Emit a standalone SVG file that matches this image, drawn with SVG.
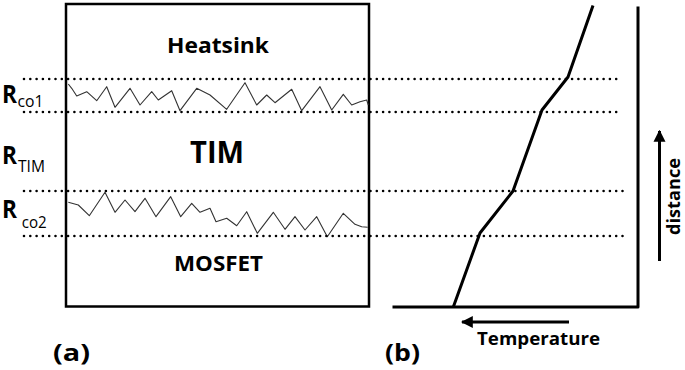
<svg xmlns="http://www.w3.org/2000/svg" width="685" height="370" viewBox="0 0 685 370">
<style>
.dot{stroke:#000;stroke-width:2.6;stroke-linecap:round;stroke-dasharray:0 6.3;fill:none}
.thick{stroke:#000;stroke-width:3;fill:none;stroke-linecap:square;stroke-linejoin:round}
.rough{stroke:#333;stroke-width:1.1;fill:none;stroke-linejoin:round}
text{font-family:"Open Sans","DejaVu Sans",sans-serif;fill:#000}
.b{font-weight:bold}
.sub{font-weight:normal;font-size:15.5px}
</style>
<defs>
<marker id="ah" viewBox="0 0 10 10" refX="9" refY="5" markerWidth="4" markerHeight="4.3" orient="auto" markerUnits="strokeWidth">
<path d="M0,0 L10,5 L0,10 Z" fill="#000"/>
</marker>
</defs>
<rect width="685" height="370" fill="#fff"/>
<g id="panel-a">
<rect x="66" y="4" width="303" height="302.5" fill="none" stroke="#000" stroke-width="2.5"/>
<text class="b" x="167" y="53.3" font-size="21" textLength="102" lengthAdjust="spacingAndGlyphs">Heatsink</text>
<text class="b" x="190" y="163.3" font-size="30" textLength="54" lengthAdjust="spacingAndGlyphs">TIM</text>
<text class="b" x="174" y="270.7" font-size="22" textLength="89" lengthAdjust="spacingAndGlyphs">MOSFET</text>
<text class="b" x="53" y="361" font-size="23" textLength="37" lengthAdjust="spacingAndGlyphs">(a)</text>
<text class="b" x="2" y="103.3" font-size="25" textLength="15" lengthAdjust="spacingAndGlyphs">R</text>
<text class="sub" x="17.5" y="106.7" textLength="26" lengthAdjust="spacingAndGlyphs">co1</text>
<text class="b" x="2" y="164" font-size="25" textLength="15" lengthAdjust="spacingAndGlyphs">R</text>
<text class="sub" x="18" y="171.7" textLength="27" lengthAdjust="spacingAndGlyphs">TIM</text>
<text class="b" x="2" y="218.3" font-size="25" textLength="15" lengthAdjust="spacingAndGlyphs">R</text>
<text class="sub" x="21.7" y="228.3" textLength="25" lengthAdjust="spacingAndGlyphs">co2</text>
<polyline class="rough" points="68.3,84 71.7,88.3 76.7,96 86.7,91.7 96.7,100.7 106.7,86.7 115,107.3 130,88.3 140,105 151.7,91.7 158.3,100 171.7,90.7 180,110.7 196.7,88.3 210,95 226.7,109.3 245,82.7 256.7,105 266.7,95 275,102.7 291.7,89.3 301.7,110.7 320,86.7 331.7,110 343.3,94.3 351.7,105 360,101.7 366.7,100 368.3,105"/>
<polyline class="rough" points="68.3,202.3 78.3,205 89.3,215.7 105,192.3 115,212.3 125,200 135,211.7 145,198.3 156,216.7 170.7,196.7 180.7,216.7 191.7,203.3 200,212.3 210,208.3 216,221.7 226.7,218.3 236.7,225.7 246.7,211.7 257.3,233.3 273.3,212.3 285,229.3 295,216.7 305,230 316.7,216.7 327.3,236.7 343.3,213.3 355,224.3 361.7,226.7 367.7,227.3"/>
</g>
<g id="connectors">
<line class="dot" x1="24" y1="79" x2="621" y2="79"/>
<line class="dot" x1="24" y1="112" x2="621" y2="112"/>
<line class="dot" x1="24" y1="191" x2="628" y2="191"/>
<line class="dot" x1="24" y1="236" x2="628" y2="236"/>
</g>
<g id="panel-b">
<polyline class="thick" points="638,8 638,307 394,307"/>
<polyline class="thick" points="592.5,7 568,77 542,110 513,191 480,233 454,305" stroke-linecap="butt"/>
<line x1="659.5" y1="261" x2="659.5" y2="131" stroke="#000" stroke-width="3" marker-end="url(#ah)"/>
<line x1="569" y1="322" x2="462" y2="322" stroke="#000" stroke-width="3" marker-end="url(#ah)"/>
<text class="b" x="477" y="345" font-size="17" textLength="123" lengthAdjust="spacingAndGlyphs">Temperature</text>
<text class="b" font-size="18" text-anchor="middle" textLength="77" lengthAdjust="spacingAndGlyphs" transform="translate(680,196.5) rotate(-90)">distance</text>
<text class="b" x="385" y="361" font-size="23" textLength="35" lengthAdjust="spacingAndGlyphs">(b)</text>
</g>
</svg>
